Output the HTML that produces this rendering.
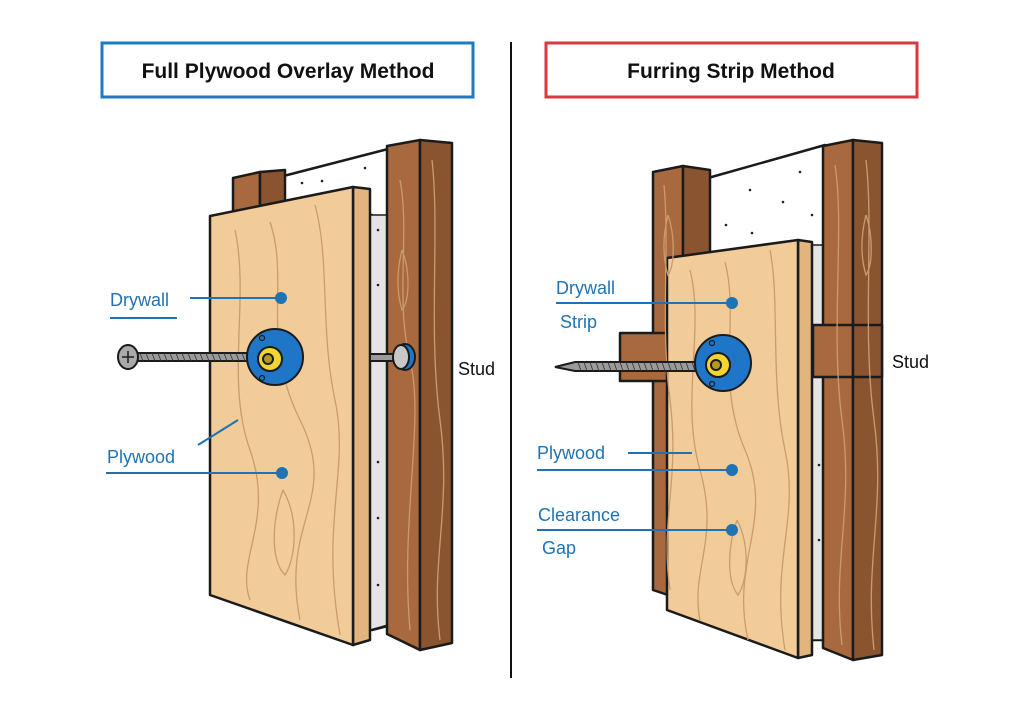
<!DOCTYPE html>
<html><head><meta charset="utf-8"><style>
html,body{margin:0;padding:0;background:#fff}
svg{display:block}
text{font-family:"Liberation Sans",sans-serif}
</style></head><body>
<svg width="1024" height="717" viewBox="0 0 1024 717" xmlns="http://www.w3.org/2000/svg">
<rect width="1024" height="717" fill="#fff"/>
<rect x="102" y="43" width="371" height="54" fill="#fff" stroke="#1e7bc2" stroke-width="3"/>
<text x="288" y="78" font-size="21" font-weight="bold" text-anchor="middle" fill="#111">Full Plywood Overlay Method</text>
<rect x="546" y="43" width="371" height="54" fill="#fff" stroke="#d83a40" stroke-width="3"/>
<text x="731" y="78" font-size="21" font-weight="bold" text-anchor="middle" fill="#111">Furring Strip Method</text>
<line x1="511" y1="42" x2="511" y2="678" stroke="#111" stroke-width="2"/>

<g stroke="#1b1b1b" stroke-width="2.5" stroke-linejoin="round">
<polygon points="268,180 392,148 392,625 372,630 372,215 268,215" fill="#fff"/>
<polygon points="370,215 388,215 388,625 370,630" fill="#e4e4e4" stroke-width="1.5"/>
<polygon points="233,178 260,172 260,215 233,215" fill="#a7693d"/>
<polygon points="260,172 285,170 285,210 260,215" fill="#8b5431"/>
<polygon points="387,146 420,140 420,650 387,634" fill="#a7693d"/>
<polygon points="420,140 452,143 452,643 420,650" fill="#8b5431"/>
<polygon points="353,187 370,189 370,640 353,645" fill="#e2b47e"/>
<polygon points="210,216 353,187 353,645 210,595" fill="#f1cb98"/>
</g>
<g fill="none" stroke="#c99c6c" stroke-width="1.3">
<path d="M235,230 C250,300 225,380 250,450 S235,560 250,600"/>
<path d="M270,222 C290,280 260,340 300,420 S280,520 300,620"/>
<path d="M315,205 C330,260 320,330 335,400 S320,520 340,635"/>
<path d="M283,490 C300,520 295,560 285,575 C270,560 272,520 283,490"/>
<path d="M400,180 C410,230 395,300 410,360 S400,520 410,630"/>
<path d="M432,160 C440,230 428,330 440,420 S430,560 440,640"/>
<path d="M402,250 C410,270 410,300 402,310 C396,290 397,270 402,250"/>
</g>
<g fill="#222"><circle cx="302" cy="183" r="1.3"/><circle cx="322" cy="181" r="1.3"/><circle cx="365" cy="168" r="1.3"/><circle cx="378" cy="230" r="1.3"/><circle cx="378" cy="285" r="1.3"/><circle cx="378" cy="462" r="1.3"/><circle cx="378" cy="518" r="1.3"/><circle cx="378" cy="585" r="1.3"/></g>
<g stroke="#1b1b1b" stroke-width="2">
<rect x="137" y="353" width="130" height="8" fill="#9a9a9a"/>
<ellipse cx="128" cy="357" rx="10" ry="12" fill="#a9a9a9"/>
<path d="M122,357 h12 M128,351 v12" stroke-width="1.5"/>
<circle cx="275" cy="357" r="28" fill="#1f76c8"/>
<circle cx="270" cy="359" r="12" fill="#f2d531"/>
<circle cx="268" cy="359" r="5" fill="#b39a1e"/>
<circle cx="262" cy="338" r="2.5" fill="none" stroke-width="1.2"/>
<circle cx="262" cy="378" r="2.5" fill="none" stroke-width="1.2"/>
<rect x="370" y="354" width="25" height="7" fill="#9a9a9a"/>
<ellipse cx="405" cy="357" rx="10" ry="13" fill="#1f76c8"/>
<ellipse cx="401" cy="357" rx="8" ry="12" fill="#c8c8c8"/>
</g>
<g stroke-width="0.8" stroke="#333"><path d="M140,353 l3,8 M146,353 l3,8 M152,353 l3,8 M158,353 l3,8 M164,353 l3,8 M170,353 l3,8 M176,353 l3,8 M182,353 l3,8 M188,353 l3,8 M194,353 l3,8 M200,353 l3,8 M206,353 l3,8 M212,353 l3,8 M218,353 l3,8 M224,353 l3,8 M230,353 l3,8 M236,353 l3,8 M242,353 l3,8"/></g>
<g fill="#1f73b4" font-size="18">
<text x="110" y="306">Drywall</text>
<text x="107" y="463">Plywood</text>
</g>
<g stroke="#1f73b4" stroke-width="2" fill="none">
<line x1="110" y1="318" x2="177" y2="318"/>
<line x1="190" y1="298" x2="276" y2="298"/>
<line x1="106" y1="473" x2="278" y2="473"/>
<line x1="198" y1="445" x2="238" y2="420"/>
</g>
<g fill="#1f73b4"><circle cx="281" cy="298" r="6"/><circle cx="282" cy="473" r="6"/></g>
<text x="458" y="375" font-size="18" fill="#111">Stud</text>

<g stroke="#1b1b1b" stroke-width="2.5" stroke-linejoin="round">
<polygon points="708,178 825,145 825,640 812,640 812,245 708,262" fill="#fff"/>
<polygon points="812,245 824,245 824,640 812,640" fill="#e4e4e4" stroke-width="1.5"/>
<polygon points="653,172 683,166 683,600 653,590" fill="#a7693d"/>
<polygon points="683,166 710,170 710,595 683,600" fill="#8b5431"/>
<polygon points="823,146 853,140 853,660 823,648" fill="#a7693d"/>
<polygon points="853,140 882,143 882,655 853,660" fill="#8b5431"/>
<rect x="813" y="325" width="40" height="52" fill="#a7693d"/>
<rect x="853" y="325" width="29" height="52" fill="#8b5431"/>
<rect x="620" y="333" width="48" height="48" fill="#a7693d"/>
<polygon points="798,240 812,242 812,655 798,658" fill="#e2b47e"/>
<polygon points="667,258 798,240 798,658 667,610" fill="#f1cb98"/>
</g>
<g fill="none" stroke="#c99c6c" stroke-width="1.3">
<path d="M690,270 C705,330 680,400 700,470 S690,570 700,620"/>
<path d="M725,262 C740,320 715,380 745,450 S730,560 748,640"/>
<path d="M770,250 C780,300 770,380 785,450 S770,560 785,650"/>
<path d="M737,520 C750,545 748,580 738,595 C726,580 728,545 737,520"/>
<path d="M664,185 C670,250 660,320 670,400 S660,520 670,590"/>
<path d="M835,165 C845,230 830,330 842,420 S832,560 842,645"/>
<path d="M866,160 C874,230 862,330 874,420 S864,560 874,650"/>
<path d="M668,215 C675,235 675,265 668,275 C662,255 663,235 668,215"/>
<path d="M866,215 C873,235 873,265 866,275 C860,255 861,235 866,215"/>
</g>
<g fill="#222"><circle cx="800" cy="172" r="1.3"/><circle cx="750" cy="190" r="1.3"/><circle cx="783" cy="202" r="1.3"/><circle cx="726" cy="225" r="1.3"/><circle cx="752" cy="233" r="1.3"/><circle cx="812" cy="215" r="1.3"/><circle cx="819" cy="465" r="1.3"/><circle cx="819" cy="540" r="1.3"/></g>
<g stroke="#1b1b1b" stroke-width="2">
<polygon points="555,367 575,362 722,362 722,371 575,371" fill="#9a9a9a"/>
<circle cx="723" cy="363" r="28" fill="#1f76c8"/>
<circle cx="718" cy="365" r="12" fill="#f2d531"/>
<circle cx="716" cy="365" r="5" fill="#b39a1e"/>
<circle cx="712" cy="343" r="2.5" fill="none" stroke-width="1.2"/>
<circle cx="712" cy="384" r="2.5" fill="none" stroke-width="1.2"/>
</g>
<g stroke-width="0.8" stroke="#333"><path d="M578,362 l3,9 M584,362 l3,9 M590,362 l3,9 M596,362 l3,9 M602,362 l3,9 M608,362 l3,9 M614,362 l3,9 M620,362 l3,9 M626,362 l3,9 M632,362 l3,9 M638,362 l3,9 M644,362 l3,9 M650,362 l3,9 M656,362 l3,9 M662,362 l3,9 M668,362 l3,9 M674,362 l3,9 M680,362 l3,9 M686,362 l3,9 M692,362 l3,9"/></g>
<g fill="#1f73b4" font-size="18">
<text x="556" y="294">Drywall</text>
<text x="560" y="328">Strip</text>
<text x="537" y="459">Plywood</text>
<text x="538" y="521">Clearance</text>
<text x="542" y="554">Gap</text>
</g>
<g stroke="#1f73b4" stroke-width="2" fill="none">
<line x1="556" y1="303" x2="728" y2="303"/>
<line x1="628" y1="453" x2="692" y2="453"/>
<line x1="537" y1="470" x2="728" y2="470"/>
<line x1="537" y1="530" x2="728" y2="530"/>
</g>
<g fill="#1f73b4"><circle cx="732" cy="303" r="6"/><circle cx="732" cy="470" r="6"/><circle cx="732" cy="530" r="6"/></g>
<text x="892" y="368" font-size="18" fill="#111">Stud</text>
</svg>
</body></html>
